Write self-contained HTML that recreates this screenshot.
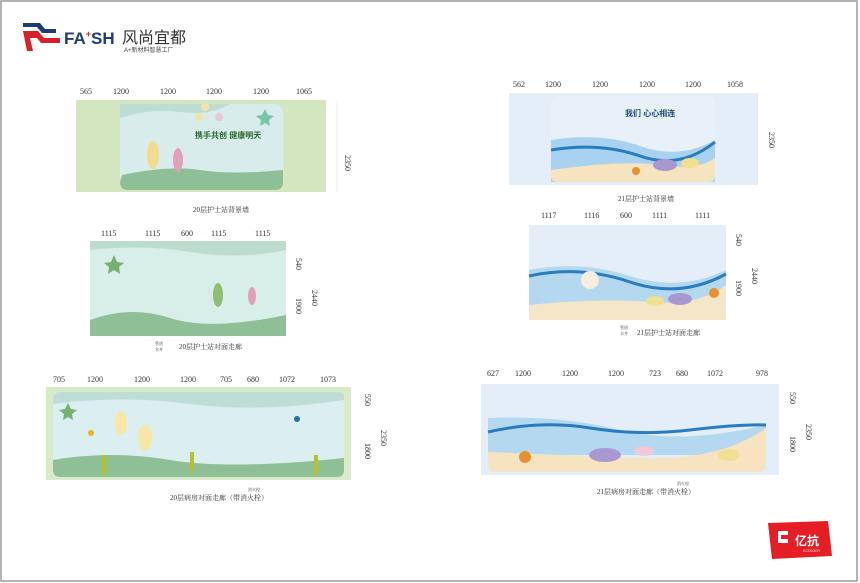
<!DOCTYPE html>
<html><head><meta charset="utf-8"><style>
html,body{margin:0;padding:0;background:#fff;}
svg{display:block;font-family:"Liberation Serif","Noto Serif CJK SC",serif;}
.d{font-size:8px;fill:#333;}
.c{font-size:7px;fill:#333;}
</style></head><body>
<svg width="860" height="583" viewBox="0 0 860 583" xmlns="http://www.w3.org/2000/svg">
<rect x="0" y="0" width="860" height="583" fill="#fff"/>
<rect x="1" y="1" width="856" height="580" fill="none" stroke="#9a9a9a" stroke-width="1.5"/>
<!-- FASH logo -->
<polygon points="23,23 40,23 45,29 56,29 56,33 42,33 37,27 23,27" fill="#1f3c78"/>
<polygon points="23,31 38,31 44,38 60,38 60,43 41,43 37,38 30,38 33,51 27,51" fill="#d8202a"/>
<text x="64" y="44" font-family="Liberation Sans,sans-serif" font-weight="bold" font-size="17" fill="#1f3c78">FA<tspan font-size="9" dy="-7" fill="#d8202a">+</tspan><tspan dy="7">SH</tspan></text>
<text x="122" y="43" font-family="Liberation Sans,'Noto Sans CJK SC',sans-serif" font-size="16" fill="#333">风尚宜都</text>
<text x="124" y="52" font-family="Liberation Sans,'Noto Sans CJK SC',sans-serif" font-size="6" fill="#444">A+新材料智慧工厂</text>

<!-- Panel 1 -->
<g class="d"><text x="80" y="94">565</text><text x="113" y="94">1200</text><text x="160" y="94">1200</text><text x="206" y="94">1200</text><text x="253" y="94">1200</text><text x="296" y="94">1065</text></g>
<rect x="76" y="100" width="250" height="92" fill="#d3e6c0"/>
<rect x="120" y="104" width="163" height="86" rx="8" fill="#d8ecec"/>
<path d="M120,118 Q150,108 180,112 T230,104 L120,104Z" fill="#bcdcd4"/>
<path d="M122,175 Q170,165 200,170 T283,170 L283,182 Q283,190 275,190 L128,190 Q120,190 120,182Z" fill="#8ebf96"/>
<text x="195" y="138" font-family="Liberation Sans,'Noto Sans CJK SC',sans-serif" font-weight="bold" font-size="8" fill="#2a6a2a">携手共创 健康明天</text>
<ellipse cx="153" cy="155" rx="6" ry="14" fill="#f0dc8a"/>
<ellipse cx="178" cy="160" rx="5" ry="12" fill="#e2a0b8"/>
<circle cx="205" cy="107" r="4" fill="#f2e4a8"/><circle cx="199" cy="117" r="4" fill="#f0e2a8"/><circle cx="219" cy="117" r="4" fill="#e8c8d8"/>
<polygon points="265,109 268,115 274,116 269,120 270,126 265,123 260,126 261,120 256,116 262,115" fill="#7cc4a8"/>
<line x1="337" y1="100" x2="337" y2="192" stroke="#ddd" stroke-width=".5"/>
<text x="345" y="155" class="d" transform="rotate(90 345 155)">2350</text>
<text x="193" y="212" class="c">20层护士站背景墙</text>

<!-- Panel 2 -->
<g class="d"><text x="101" y="236">1115</text><text x="145" y="236">1115</text><text x="181" y="236">600</text><text x="211" y="236">1115</text><text x="255" y="236">1115</text></g>
<rect x="90" y="241" width="196" height="95" fill="#e4f2ea"/>
<rect x="90" y="241" width="196" height="95" fill="#d8eee8"/>
<path d="M90,250 Q140,244 190,252 T286,250 L286,241 L90,241Z" fill="#bcdcce"/>
<path d="M90,320 Q130,305 170,318 T286,315 L286,336 L90,336Z" fill="#8ebf96"/>
<ellipse cx="218" cy="295" rx="5" ry="12" fill="#8cc070"/>
<ellipse cx="252" cy="296" rx="4" ry="9" fill="#e2a0b8"/>
<polygon points="114,255 117,262 124,263 119,267 120,274 114,270 108,274 109,267 104,263 111,262" fill="#78b070"/>
<g class="d"><text x="296" y="258" transform="rotate(90 296 258)">540</text><text x="296" y="298" transform="rotate(90 296 298)">1900</text><text x="312" y="290" transform="rotate(90 312 290)">2440</text></g>
<text x="179" y="349" class="c">20层护士站对面走廊</text>
<text x="155" y="345" font-size="4" fill="#333">管道</text><text x="155" y="351" font-size="4" fill="#333">水井</text>

<!-- Panel 3 -->
<g class="d"><text x="53" y="382">705</text><text x="87" y="382">1200</text><text x="134" y="382">1200</text><text x="180" y="382">1200</text><text x="220" y="382">705</text><text x="247" y="382">680</text><text x="279" y="382">1072</text><text x="320" y="382">1073</text></g>
<rect x="46" y="387" width="305" height="93" fill="#d8ebc8"/>
<rect x="53" y="392" width="291" height="85" rx="8" fill="#dbeef0"/>
<path d="M53,404 Q120,395 190,404 T344,400 L344,398 Q344,392 336,392 L61,392 Q53,392 53,400Z" fill="#c0dcd6"/>
<path d="M53,460 Q110,450 170,460 T344,458 L344,470 Q344,477 336,477 L61,477 Q53,477 53,470Z" fill="#8ebf96"/>
<ellipse cx="121" cy="423" rx="6" ry="12" fill="#f6e6a8"/><ellipse cx="145" cy="438" rx="7" ry="13" fill="#f6e6a8"/>
<polygon points="68,403 71,409 77,410 72,414 73,420 68,417 63,420 64,414 59,410 65,409" fill="#78b070"/>
<circle cx="91" cy="433" r="3" fill="#f0b020"/><circle cx="297" cy="419" r="3" fill="#2070b8"/>
<rect x="190" y="452" width="4" height="20" fill="#b8c030"/><rect x="102" y="455" width="4" height="20" fill="#b8c030"/><rect x="314" y="455" width="4" height="20" fill="#b8c030"/>
<g class="d"><text x="365" y="394" transform="rotate(90 365 394)">550</text><text x="365" y="443" transform="rotate(90 365 443)">1800</text><text x="381" y="430" transform="rotate(90 381 430)">2350</text></g>
<text x="170" y="500" class="c">20层病房对面走廊（带消火栓）</text>
<text x="248" y="491" font-size="4" fill="#333">消火栓</text>

<!-- Panel 4 -->
<g class="d"><text x="513" y="87">562</text><text x="545" y="87">1200</text><text x="592" y="87">1200</text><text x="639" y="87">1200</text><text x="685" y="87">1200</text><text x="727" y="87">1058</text></g>
<rect x="509" y="93" width="249" height="92" fill="#e4eef8"/>
<rect x="551" y="96" width="164" height="86" rx="8" fill="#e8f1fa"/>
<path d="M551,140 Q600,132 640,146 T715,140 L715,182 L551,182Z" fill="#a8d2ef"/>
<path d="M551,150 Q600,142 640,156 T715,142" stroke="#2a7cc0" stroke-width="3" fill="none"/>
<path d="M551,170 Q620,160 660,165 T715,158 L715,176 Q715,182 708,182 L558,182 Q551,182 551,176Z" fill="#f6e4c0"/>
<text x="625" y="116" font-family="Liberation Sans,'Noto Sans CJK SC',sans-serif" font-weight="bold" font-size="8" fill="#1f4c80">我们 心心相连</text>
<ellipse cx="665" cy="165" rx="12" ry="6" fill="#a898d0"/><ellipse cx="690" cy="163" rx="9" ry="5" fill="#f0e090"/>
<circle cx="636" cy="171" r="4" fill="#e89030"/>
<g class="d"><text x="769" y="132" transform="rotate(90 769 132)">2350</text></g>
<text x="618" y="201" class="c">21层护士站背景墙</text>

<!-- Panel 5 -->
<g class="d"><text x="541" y="218">1117</text><text x="584" y="218">1116</text><text x="620" y="218">600</text><text x="652" y="218">1111</text><text x="695" y="218">1111</text></g>
<rect x="529" y="225" width="197" height="95" fill="#e4eef8"/>
<path d="M529,270 Q580,260 630,276 T726,270 L726,320 L529,320Z" fill="#b4d8f0"/>
<path d="M529,276 Q580,265 630,282 T726,274" stroke="#2a7cc0" stroke-width="3" fill="none"/>
<path d="M529,305 Q600,298 650,302 T726,285 L726,320 L529,320Z" fill="#f6e6c8"/>
<ellipse cx="590" cy="280" rx="9" ry="9" fill="#f6eee0"/>
<ellipse cx="680" cy="299" rx="12" ry="6" fill="#a898d0"/><ellipse cx="655" cy="301" rx="9" ry="5" fill="#f0e090"/>
<circle cx="714" cy="293" r="5" fill="#e89030"/>
<g class="d"><text x="736" y="234" transform="rotate(90 736 234)">540</text><text x="736" y="280" transform="rotate(90 736 280)">1900</text><text x="752" y="268" transform="rotate(90 752 268)">2440</text></g>
<text x="637" y="335" class="c">21层护士站对面走廊</text>
<text x="620" y="329" font-size="4" fill="#333">管道</text><text x="620" y="335" font-size="4" fill="#333">水井</text>

<!-- Panel 6 -->
<g class="d"><text x="487" y="376">627</text><text x="515" y="376">1200</text><text x="562" y="376">1200</text><text x="608" y="376">1200</text><text x="649" y="376">723</text><text x="676" y="376">680</text><text x="707" y="376">1072</text><text x="756" y="376">978</text></g>
<rect x="481" y="384" width="298" height="91" fill="#e4eef8"/>
<path d="M488,418 Q560,415 620,430 T766,425 L766,455 L488,455Z" fill="#b4d8f0"/>
<path d="M488,432 Q540,420 590,428 T690,430 T766,425" stroke="#2a7cc0" stroke-width="3" fill="none"/>
<path d="M488,452 Q560,455 640,458 T766,428 L766,466 Q766,472 758,472 L496,472 Q488,472 488,466Z" fill="#f6e4c0"/>
<ellipse cx="605" cy="455" rx="16" ry="7" fill="#a898d0"/><ellipse cx="644" cy="451" rx="10" ry="5" fill="#f0c8d8"/><ellipse cx="729" cy="455" rx="11" ry="6" fill="#f0e090"/>
<circle cx="525" cy="457" r="6" fill="#e89030"/>
<g class="d"><text x="790" y="392" transform="rotate(90 790 392)">550</text><text x="790" y="436" transform="rotate(90 790 436)">1800</text><text x="806" y="424" transform="rotate(90 806 424)">2350</text></g>
<text x="597" y="494" class="c">21层病房对面走廊（带消火栓）</text>
<text x="677" y="485" font-size="4" fill="#333">消火栓</text>

<!-- 亿抗 logo -->
<polygon points="768,523 828,521 832,556 772,559" fill="#e41e24"/>
<path d="M778,531 h10 v4 h-7 v4 h7 v4 h-10z" fill="#fff"/>
<text x="795" y="545" font-family="Liberation Sans,'Noto Sans CJK SC',sans-serif" font-weight="bold" font-size="12" fill="#fff">亿抗</text>
<text x="803" y="552" font-family="Liberation Sans,sans-serif" font-size="3.5" fill="#fff">ECOLOGY</text>
</svg>
</body></html>
